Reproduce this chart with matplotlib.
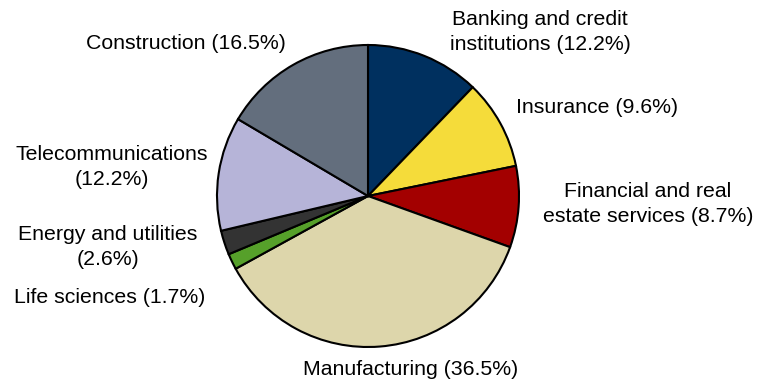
import matplotlib.pyplot as plt

plt.rcParams['font.family'] = ['Liberation Sans', 'DejaVu Sans']

sectors = ['Banking and credit\ninstitutions', 'Insurance', 'Financial and real\nestate services',
           'Manufacturing', 'Life sciences', 'Energy and utilities\n', 'Telecommunications\n',
           'Construction']
shares = [12.2, 9.6, 8.7, 36.5, 1.7, 2.6, 12.2, 16.5]
colors = ['#00305F', '#F5DC3A', '#A30000', '#DDD6AB', '#56A02A', '#333333', '#B6B4D8', '#636E7D']

# label anchors, in units of the pie radius
label_pos = [(1.14, 1.086), (1.517, 0.589), (1.854, -0.053), (0.285, -1.152),
             (-1.709, -0.669), (-1.722, -0.338), (-1.695, 0.192), (-1.205, 1.013)]

fig = plt.figure(figsize=(7.58, 3.84), dpi=100)
ax = fig.add_axes([0, 0, 1, 1])

ax.pie(shares, colors=colors, startangle=90, counterclock=False, radius=1,
       wedgeprops=dict(edgecolor='black', linewidth=1.5))

for name, val, (x, y) in zip(sectors, shares, label_pos):
    if name.endswith('\n'):
        txt = name + '(%.1f%%)' % val
    else:
        txt = name + ' (%.1f%%)' % val
    ax.text(x, y, txt, ha='center', va='center', fontsize=15.3, linespacing=1.4)

# 151 px per radius, pie centre at (368, 196) px from top-left
ax.set_xlim(-368 / 151, (758 - 368) / 151)
ax.set_ylim(-188 / 151, 196 / 151)
ax.set_aspect('equal')
ax.axis('off')

fig.savefig('out.png', dpi=100)
